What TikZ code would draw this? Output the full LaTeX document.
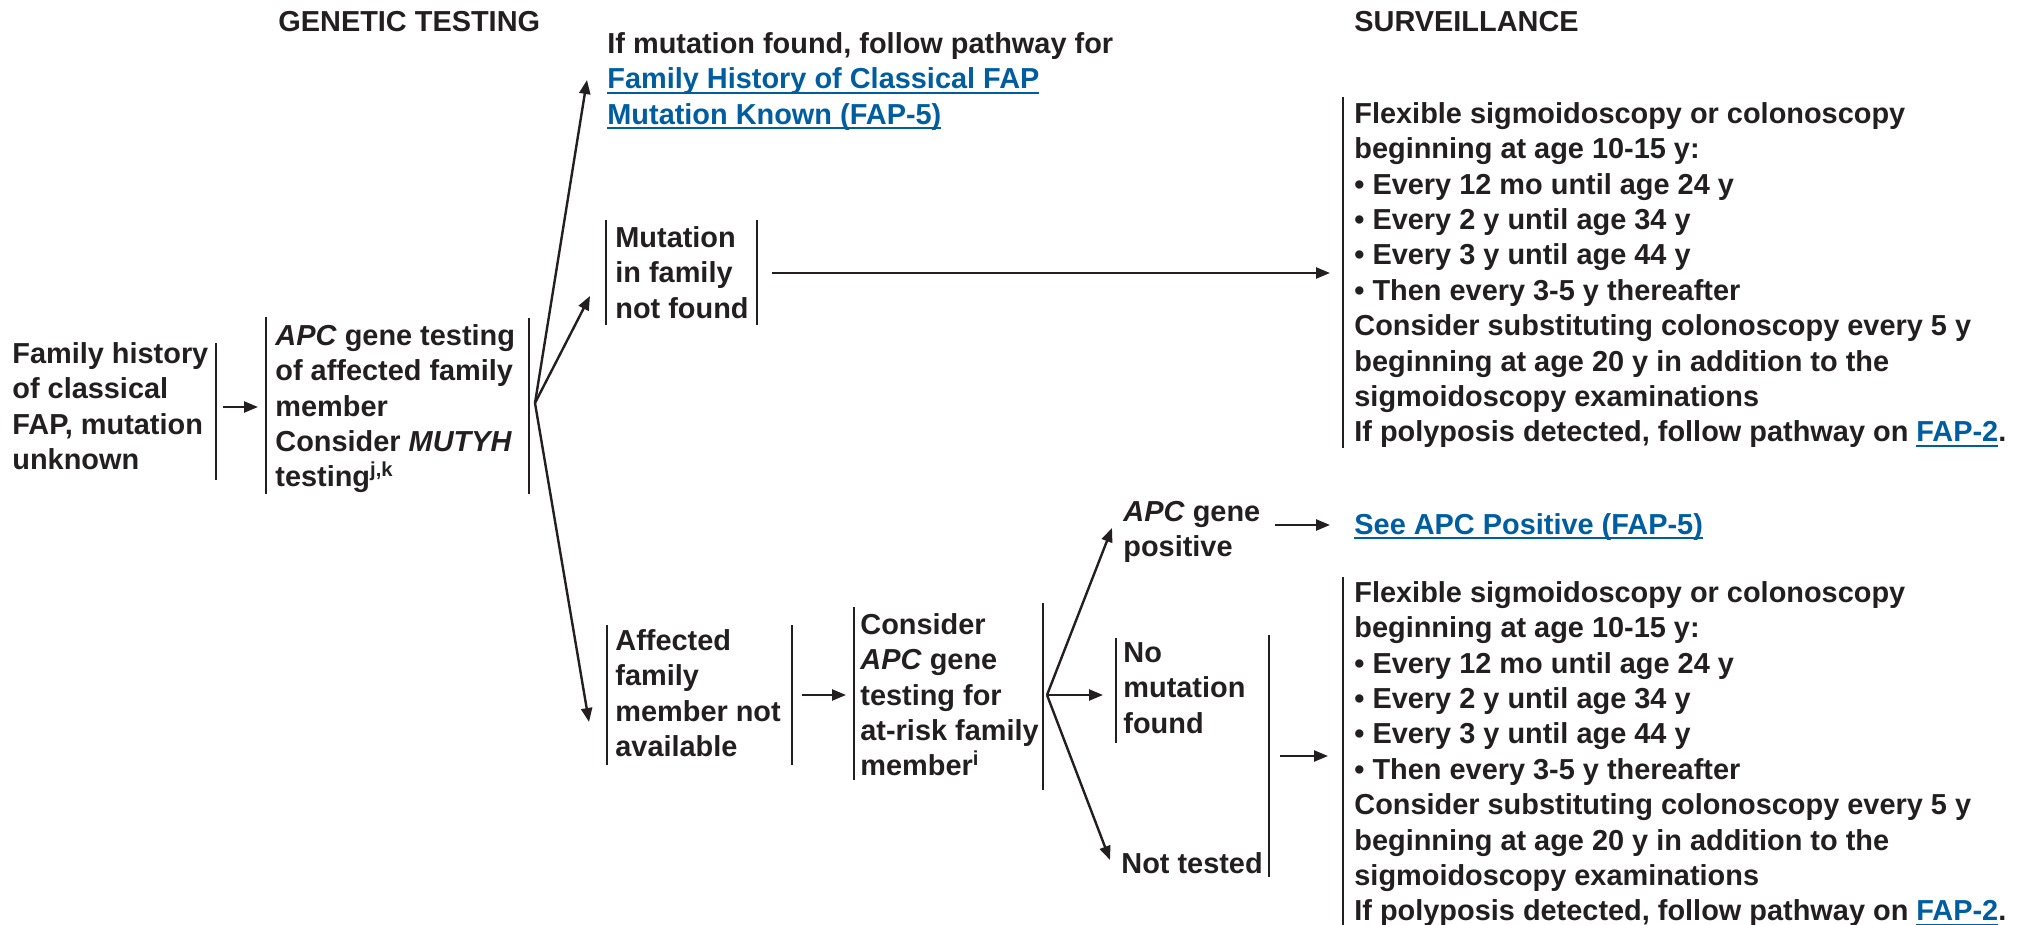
\documentclass[tikz,border=0pt]{standalone}
\usepackage{fontspec}
\setmainfont{Liberation Sans}
\usetikzlibrary{arrows.meta}

\definecolor{ink}{RGB}{35,31,32}
\definecolor{linkblue}{RGB}{0,94,160}
\newcommand{\lnk}[1]{\textcolor{linkblue}{\setbox0\hbox{#1}\rlap{\rule[-2.4pt]{\wd0}{1pt}}\box0}}
\newcommand{\bul}{\textbullet\ }
\newcommand{\survtext}{Flexible sigmoidoscopy or colonoscopy\\
  beginning at age 10-15 y:\\
  \bul Every 12 mo until age 24 y\\
  \bul Every 2 y until age 34 y\\
  \bul Every 3 y until age 44 y\\
  \bul Then every 3-5 y thereafter\\
  Consider substituting colonoscopy every 5 y\\
  beginning at age 20 y in addition to the\\
  sigmoidoscopy examinations\\
  If polyposis detected, follow pathway on \lnk{FAP-2}.}

\tikzset{
  txt/.style={anchor=north west, inner sep=0pt, align=left, text=ink,
    font=\fontsize{14.45pt}{17.7pt}\selectfont\bfseries},
  bar/.style={draw=ink, line width=1.2pt},
  arr/.style={draw=ink, line width=1.2pt, -{Triangle[length=7pt,width=5.5pt]}},
}

\begin{document}
\begin{tikzpicture}[x=0.5pt,y=-0.5pt]
\useasboundingbox (0,0) rectangle (2024,925);

% headers
\node[txt] (hgen) at (278,11) {GENETIC TESTING};
\node[txt] (hsurv) at (1354,11) {SURVEILLANCE};

% first column
\node[txt] (famhist) at (12,342) {Family history\\of classical\\FAP, mutation\\unknown};
\draw[bar] (216,343) -- (216,480);
\node[txt] (apctest) at (275,324) {\textit{APC} gene testing\\of affected family\\member\\Consider \textit{MUTYH}\\testing\textsuperscript{j,k}};
\draw[bar] (266,317) -- (266,494);
\draw[bar] (529,318) -- (529,494);
\coordinate (b1) at (535,403);

% results of testing
\node[txt] (found) at (607,32) {If mutation found, follow pathway for\\\lnk{Family History of Classical FAP}\\\lnk{Mutation Known (FAP-5)}};
\node[txt] (mutnf) at (615,226) {Mutation\\in family\\not found};
\draw[bar] (606,220) -- (606,325);
\draw[bar] (757,220) -- (757,325);
\node[txt] (affected) at (615,629) {Affected\\family\\member not\\available};
\draw[bar] (607,625) -- (607,765);
\draw[bar] (792,625) -- (792,765);
\node[txt] (consider) at (860,613) {Consider\\\textit{APC} gene\\testing for\\at-risk family\\member\textsuperscript{i}};
\draw[bar] (854,607) -- (854,780);
\draw[bar] (1043,603) -- (1043,790);
\coordinate (b2) at (1047,695);

\node[txt] (apcpos) at (1123,501) {\textit{APC} gene\\positive};
\node[txt] (nomut) at (1123,642) {No\\mutation\\found};
\draw[bar] (1116,638) -- (1116,743);
\node[txt] (nottest) at (1121,852) {Not tested};
\draw[bar] (1269,635) -- (1269,877);

% surveillance
\node[txt] (surv1) at (1354,102) {\survtext};
\draw[bar] (1343,97) -- (1343,448);
\node[txt] (seepos) at (1354,513) {\lnk{See APC Positive (FAP-5)}};
\node[txt] (surv2) at (1354,581) {\survtext};
\draw[bar] (1343,577) -- (1343,925);

% arrow ends
\coordinate (e0) at (258,407);
\coordinate (e1) at (587,80);
\coordinate (e2) at (590,296);
\coordinate (e3) at (589,722);
\coordinate (e4) at (1112,528);
\coordinate (e5) at (1110,860);

% arrows
\draw[arr] (223,407) -- (e0);
\draw[arr] (b1) -- (e1);
\draw[arr] (b1) -- (e2);
\draw[arr] (b1) -- (e3);
\draw[arr] (772,273) -- (1330,273);
\draw[arr] (802,695) -- (846,695);
\draw[arr] (b2) -- (e4);
\draw[arr] (b2) -- (1103,695);
\draw[arr] (b2) -- (e5);
\draw[arr] (1275,525) -- (1330,525);
\draw[arr] (1280,756) -- (1328,756);
\end{tikzpicture}
\end{document}
